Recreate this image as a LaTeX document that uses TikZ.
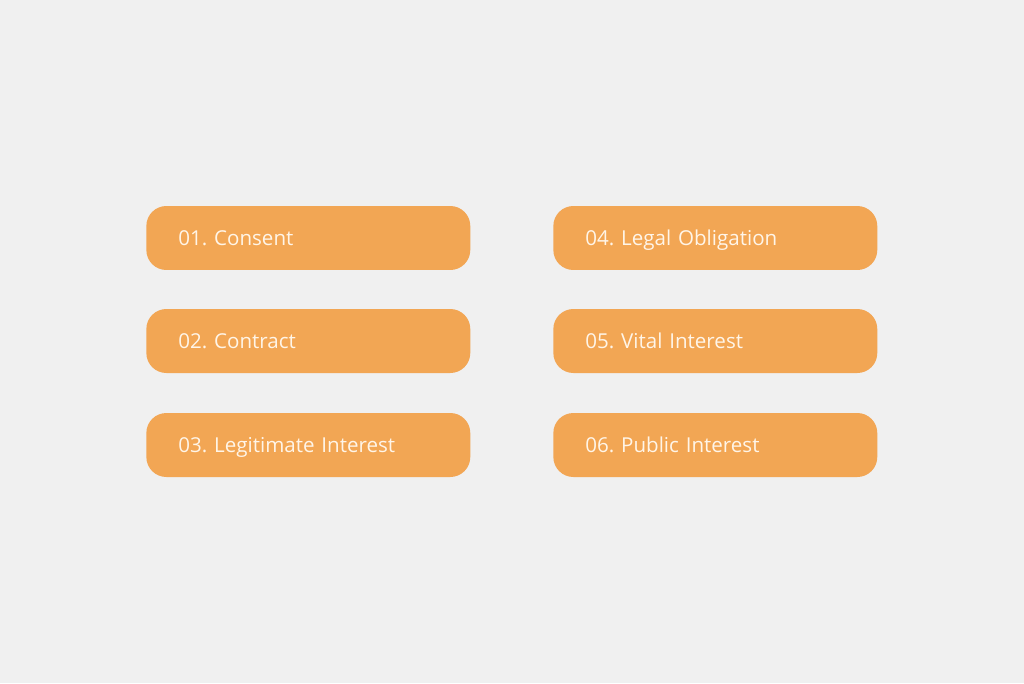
\documentclass[tikz,border=0pt]{standalone}
\usepackage{fontspec}
\setmainfont{Open Sans}
\frenchspacing
\definecolor{bg}{HTML}{F0F0F0}
\definecolor{box}{HTML}{F2A654}
\definecolor{boxtext}{HTML}{FFF5E8}
\tikzset{
	basis/.style={fill=box, rounded corners=0.4cm, minimum width=6.48cm, minimum height=1.28cm,
		text width=5.2cm, inner xsep=0.64cm, align=left, text=boxtext, text height=1.55ex, text depth=0pt,
		font=\fontsize{11.7}{13}\selectfont, anchor=west}
}
\begin{document}
\begin{tikzpicture}[x=0.02cm,y=-0.02cm]
	\fill[bg] (0,0) rectangle (1024,683);
	\node[basis](A) at (146,238) {01. Consent};
	\node[basis](B) at (146,341) {02. Contract};
	\node[basis](C) at (146,445) {03. Legitimate Interest};
	\node[basis](D) at (553,238) {04. Legal Obligation};
	\node[basis](E) at (553,341) {05. Vital Interest};
	\node[basis](F) at (553,445) {06. Public Interest};
\end{tikzpicture}
\end{document}
